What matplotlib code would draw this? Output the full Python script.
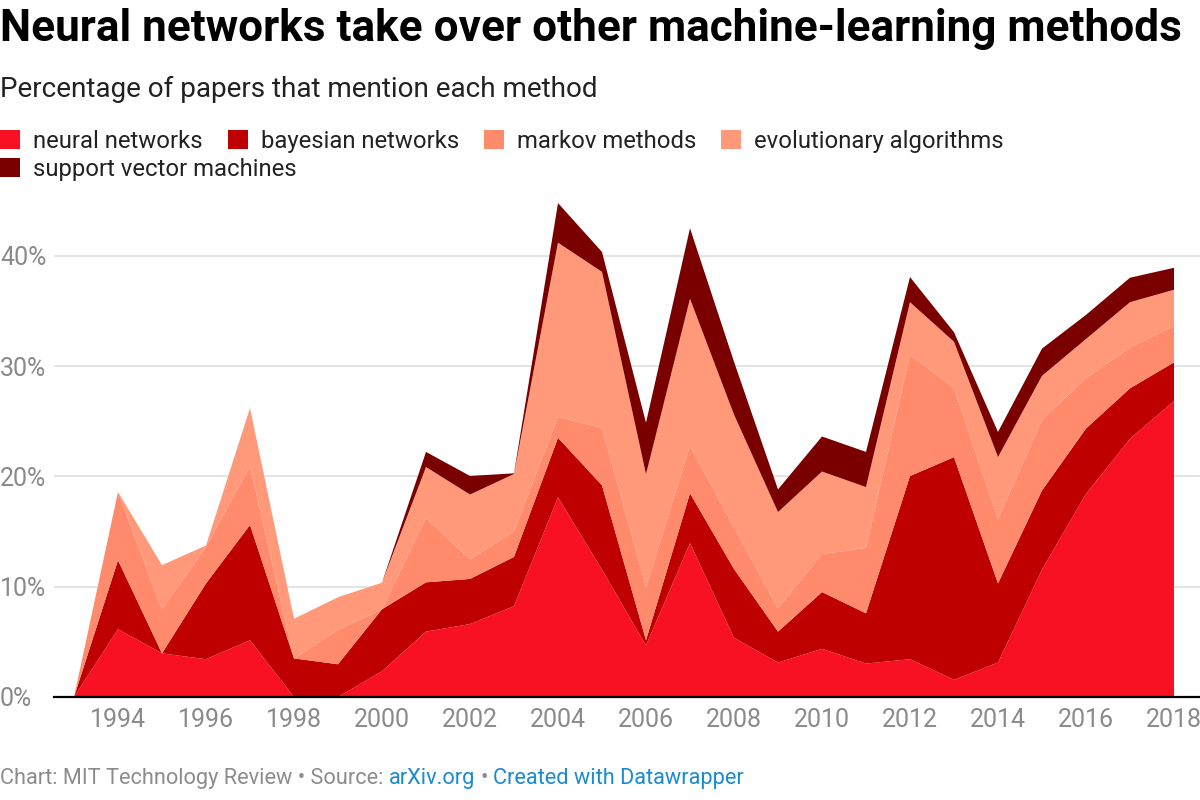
import matplotlib
matplotlib.use("Agg")
import matplotlib.pyplot as plt

plt.rcParams['font.family'] = ['Roboto', 'DejaVu Sans']

years = list(range(1993, 2019))
neural = [0, 6.15, 3.96, 3.43, 5.15, 0, 0, 2.34, 5.93, 6.62, 8.24, 18.11, 11.55,
          4.68, 13.96, 5.37, 3.12, 4.37, 3.03, 3.43, 1.56, 3.12, 11.55, 18.42, 23.42, 26.85]
bayesian = [0, 6.25, 0, 6.87, 10.46, 3.5, 2.97, 5.62, 4.47, 4.09, 4.47, 5.4, 7.65,
            0.47, 4.52, 6.24, 2.81, 5.15, 4.56, 16.61, 20.2, 7.18, 7.18, 5.93, 4.58, 3.5]
markov = [0, 6.2, 4.0, 3.34, 5.3, 0, 3.12, 0, 5.84, 1.78, 2.28, 1.9, 5.21,
          4.84, 4.31, 3.8, 2.12, 3.44, 5.93, 11.02, 6.24, 5.84, 6.4, 4.59, 3.69, 3.31]
evolutionary = [0, 0, 4.0, 0.1, 5.3, 3.6, 2.96, 2.41, 4.62, 5.87, 5.24, 15.8, 14.15,
                10.21, 13.33, 10.2, 8.72, 7.49, 5.52, 4.75, 4.22, 5.62, 4.0, 3.53, 4.12, 3.28]
svm = [0, 0, 0, 0, 0, 0, 0, 0, 1.37, 1.69, 0.06, 3.59, 1.81,
       4.68, 6.4, 4.8, 2.06, 3.18, 3.19, 2.28, 0.87, 2.28, 2.47, 2.19, 2.22, 1.99]

series_names = ["neural networks", "bayesian networks", "markov methods",
                "evolutionary algorithms", "support vector machines"]
colors = ["#f81122", "#be0000", "#ff8a6c", "#ff997a", "#7a0000"]

y_ticks = [0, 10, 20, 30, 40]
y_tick_labels = ["0%", "10%", "20%", "30%", "40%"]
x_ticks = list(range(1994, 2019, 2))

W, H = 1200, 800
fig = plt.figure(figsize=(12, 8), dpi=100)

left_px, right_px = 54, 1200
bottom_px, top_px = 697, 190
ax = fig.add_axes([left_px / W, 1 - bottom_px / H, (right_px - left_px) / W,
                   (bottom_px - top_px) / H])

px_per_year = 44.0
px_per_pct = 11.025
ax.set_xlim(1993 - (74 - left_px) / px_per_year, 2018 + (right_px - 1174) / px_per_year)
ax.set_ylim(0, (bottom_px - top_px) / px_per_pct)

polys = ax.stackplot(years, neural, bayesian, markov, evolutionary, svm,
                     colors=colors, labels=series_names, linewidth=0, zorder=2)

ax.set_yticks(y_ticks)
ax.set_yticklabels(y_tick_labels)
ax.set_xticks(x_ticks)
ax.set_xticklabels([str(x) for x in x_ticks])
ax.tick_params(axis='both', length=0, colors='#8a8a8a', labelsize=18)
ax.tick_params(axis='y', pad=left_px * 0.72)
for lab in ax.get_yticklabels():
    lab.set_horizontalalignment('left')
ax.tick_params(axis='x', pad=8)
ax.yaxis.grid(True, color='#e2e2e2', linewidth=1.3, zorder=0)
ax.set_axisbelow(True)
for s in ['top', 'right', 'left']:
    ax.spines[s].set_visible(False)
ax.spines['bottom'].set_color('black')
ax.spines['bottom'].set_linewidth(1.6)
ax.spines['bottom'].set_zorder(5)

# Title and subtitle
fig.text(0, 1 - 41 / H, "Neural networks take over other machine-learning methods",
         fontsize=31.8, fontweight='bold', color='black', va='baseline', ha='left')
fig.text(0, 1 - 97 / H, "Percentage of papers that mention each method",
         fontsize=20.1, color='#222222', va='baseline', ha='left')

# Legend (two rows)
leg_fs = 17.2
fs_px = leg_fs * 100 / 72
common = dict(frameon=False, fontsize=leg_fs, handlelength=20 / fs_px,
              handleheight=20 / fs_px, handletextpad=13 / fs_px,
              columnspacing=25 / fs_px, borderpad=0, borderaxespad=0,
              loc='center left', labelcolor='#222222')
leg1 = fig.legend(polys[:4], series_names[:4], ncol=4,
                  bbox_to_anchor=(0, 1 - 141.5 / H), **common)
leg2 = fig.legend(polys[4:], series_names[4:], ncol=1,
                  bbox_to_anchor=(0, 1 - 169.5 / H), **common)

# Footer with multiple colours
renderer = fig.canvas.get_renderer()
foot_fs = 15.7
gray = '#8c8c8c'
blue = '#1a8bd0'
pieces = [("Chart: MIT Technology Review • Source:", gray), ("arXiv.org", blue),
          ("•", gray), ("Created with Datawrapper", blue)]
t1 = fig.text(0, 0, "x x", fontsize=foot_fs)
t2 = fig.text(0, 0, "xx", fontsize=foot_fs)
space_w = t1.get_window_extent(renderer).width - t2.get_window_extent(renderer).width
t1.remove(); t2.remove()
x = 0.0
y_foot = 1 - 778.5 / H
for s, c in pieces:
    t = fig.text(x / W, y_foot, s, fontsize=foot_fs, color=c, va='center', ha='left')
    bb = t.get_window_extent(renderer)
    x = bb.x1 + space_w

fig.savefig("out.png", dpi=100)
